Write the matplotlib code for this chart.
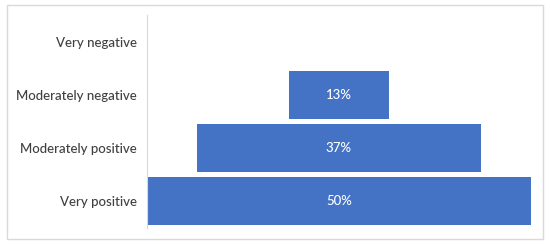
import matplotlib.pyplot as plt
from matplotlib.patches import Rectangle

# Data
categories = ['Very negative', 'Moderately negative', 'Moderately positive', 'Very positive']
values = [0, 13, 37, 50]

plt.rcParams['font.family'] = ['Lato', 'DejaVu Sans']

fig = plt.figure(figsize=(5.5, 2.46), dpi=100)
ax = fig.add_axes([147 / 550, 1 - 228 / 246, (531 - 147) / 550, (228 - 15) / 246])

pos = list(range(len(categories)))[::-1]
lefts = [-v / 2 for v in values]
ax.barh(pos, values, left=lefts, height=0.9, color='#4472C4')

for p, v in zip(pos, values):
    if v > 0:
        ax.text(0, p, f'{v}%', ha='center', va='center', color='white',
                fontsize=9.5, fontweight='medium')

ax.set_xlim(-25, 25)
ax.set_ylim(-0.5, len(categories) - 0.5)
ax.set_yticks(pos)
ax.set_yticklabels(categories, fontsize=9.5, color='#404040', fontweight='medium')
ax.tick_params(axis='y', length=0, pad=7.5)
ax.set_xticks([])
for s in ['top', 'right', 'bottom']:
    ax.spines[s].set_visible(False)
ax.spines['left'].set_color('#d9d9d9')

# outer border
fig.patches.append(Rectangle((7 / 550, 1 - 239 / 246), 536 / 550, 234 / 246,
                             transform=fig.transFigure, fill=False,
                             edgecolor='#d9d9d9', linewidth=1))

plt.savefig('out.png', dpi=100)
